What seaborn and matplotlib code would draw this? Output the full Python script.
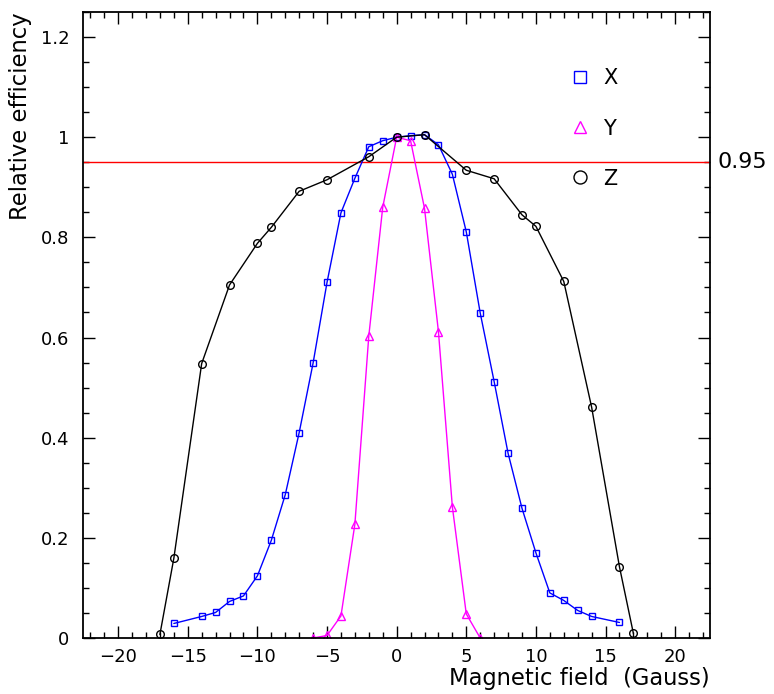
import matplotlib
matplotlib.use("Agg")
import matplotlib.pyplot as plt
from matplotlib.ticker import MultipleLocator
import numpy as np
import pandas as pd
import seaborn as sns

# Relative efficiency vs. magnetic field along each axis
x_field = [-16, -14, -13, -12, -11, -10, -9, -8, -7, -6, -5, -4, -3, -2, -1, 0,
           1, 2, 3, 4, 5, 6, 7, 8, 9, 10, 11, 12, 13, 14, 16]
x_eff = [0.029, 0.043, 0.051, 0.073, 0.084, 0.124, 0.195, 0.286, 0.410, 0.549,
         0.710, 0.849, 0.918, 0.981, 0.993, 1.000,
         1.003, 1.005, 0.985, 0.926, 0.811, 0.649, 0.512, 0.369, 0.259, 0.170,
         0.090, 0.075, 0.055, 0.043, 0.031]

y_field = [-6, -5, -4, -3, -2, -1, 0, 1, 2, 3, 4, 5, 6]
y_eff = [0.0, 0.005, 0.044, 0.227, 0.603, 0.860, 1.000, 0.993, 0.858, 0.612,
         0.262, 0.048, 0.0]

z_field = [-17, -16, -14, -12, -10, -9, -7, -5, -2, 0, 2, 5, 7, 9, 10, 12, 14,
           16, 17]
z_eff = [0.007, 0.159, 0.548, 0.705, 0.788, 0.820, 0.892, 0.915, 0.961, 1.000,
         1.005, 0.934, 0.917, 0.845, 0.822, 0.712, 0.461, 0.142, 0.009]

threshold = 0.95
series_names = ["X", "Y", "Z"]

sns.set_style("ticks")
plt.rcParams["font.family"] = ["DejaVu Sans"]
plt.rcParams["text.color"] = "black"
plt.rcParams["xtick.color"] = "black"
plt.rcParams["ytick.color"] = "black"

fig = plt.figure(figsize=(7.74, 6.94), dpi=100)
ax = fig.add_axes([83.3 / 774, 56 / 694, (710 - 83.3) / 774, (638 - 12) / 694])

styles = [
    (x_field, x_eff, "#0000ff", "s", 5.0),
    (y_field, y_eff, "#ff00ff", "^", 5.5),
    (z_field, z_eff, "#000000", "o", 5.5),
]
for name, (fx, fy, col, mk, ms) in zip(series_names, styles):
    df = pd.DataFrame({"field": fx, "eff": fy})
    sns.lineplot(data=df, x="field", y="eff", ax=ax, color=col, marker=mk,
                 markersize=ms, markerfacecolor="none", markeredgecolor=col,
                 markeredgewidth=1.0, linewidth=1.0, sort=False,
                 estimator=None, label=name)

ax.axhline(threshold, color="#ff0000", linewidth=1.0, zorder=1)
ax.text(1.012, threshold, f"{threshold:.2f}", transform=ax.get_yaxis_transform(),
        ha="left", va="center", fontsize=16, color="black")

ax.set_xlim(-22.5, 22.5)
ax.set_ylim(0, 1.25)
ax.set_xticks([-20, -15, -10, -5, 0, 5, 10, 15, 20])
ax.set_xticklabels(["\u221220", "\u221215", "\u221210", "\u22125", "0", "5",
                    "10", "15", "20"])
ax.set_yticks([0, 0.2, 0.4, 0.6, 0.8, 1.0, 1.2])
ax.set_yticklabels(["0", "0.2", "0.4", "0.6", "0.8", "1", "1.2"])
ax.xaxis.set_minor_locator(MultipleLocator(1))
ax.yaxis.set_minor_locator(MultipleLocator(0.05))
ax.tick_params(which="both", direction="in", top=True, right=True,
               labelsize=13, width=1.0, color="black", labelcolor="black")
ax.tick_params(which="major", length=8.5)
ax.tick_params(axis="y", which="major", pad=10)
ax.tick_params(axis="x", which="major", pad=7)
ax.tick_params(which="minor", length=4.2)
for s in ax.spines.values():
    s.set_linewidth(1.3)
    s.set_color("black")

ax.set_xlabel("")
ax.set_ylabel("")
fig.text(710 / 774, 1 - 679 / 694, "Magnetic field  (Gauss)", ha="right",
         va="center", fontsize=16.3, color="black")
fig.text(21 / 774, 1 - 12 / 694, "Relative efficiency", rotation=90,
         ha="center", va="top", fontsize=16.3, color="black")

leg = ax.legend(loc="upper left", bbox_to_anchor=(0.763, 0.94), frameon=False,
                fontsize=15, markerscale=1.7, handlelength=0,
                handletextpad=1.1, labelspacing=1.45)
for h in leg.legend_handles:
    h.set_linestyle("none")
for t in leg.get_texts():
    t.set_color("black")

fig.savefig("out.png", dpi=100)
